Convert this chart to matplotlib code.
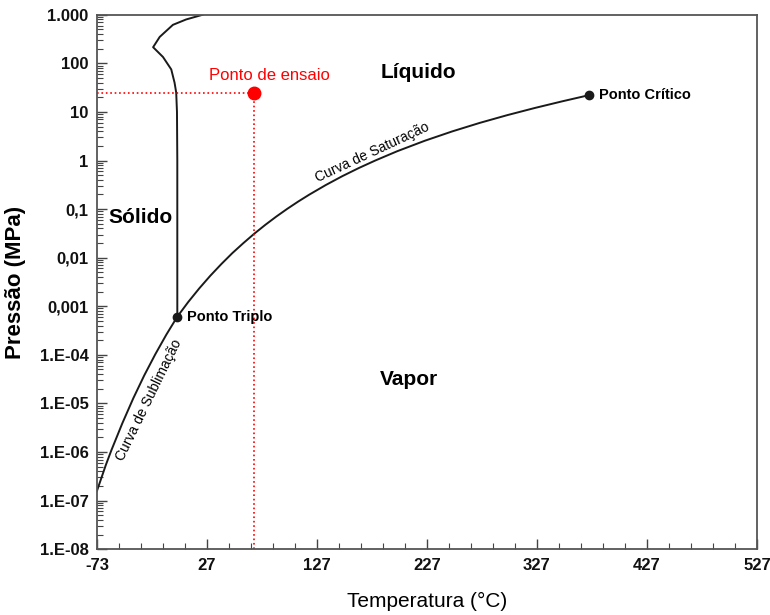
import numpy as np
import matplotlib.pyplot as plt
from matplotlib.ticker import FixedLocator, LogLocator, NullFormatter

# curva de sublimacao (gelo - vapor)
sub_T = [-73, -65, -60, -50, -40, -30, -20, -10, 0.01]
sub_P = [1.6e-7, 5.4e-7, 1.08e-6, 3.9e-6, 1.28e-5, 3.8e-5, 1.03e-4, 2.6e-4, 6.11e-4]

# curva de saturacao (liquido - vapor)
sat_T = [0.01, 10, 20, 30, 40, 50, 60, 70, 80, 90, 100, 110, 120, 135, 150, 165, 180,
         200, 225, 250, 275, 300, 325, 350, 374]
sat_P = [6.11e-4, 1.23e-3, 2.34e-3, 4.25e-3, 7.38e-3, 0.0124, 0.0199, 0.0312, 0.0474,
         0.0702, 0.1014, 0.1434, 0.1985, 0.313, 0.476, 0.700, 1.0, 1.555, 2.55, 3.976,
         5.95, 8.588, 12.05, 16.53, 22.06]

# curva de fusao (solido - liquido)
fus_T = [0.01, 0.0, -0.3, -1.0, -2.5, -5.5, -13, -22, -16, -4, 8, 23]
fus_P = [6.11e-4, 1, 10, 25, 40, 75, 135, 215, 350, 620, 800, 1000]

ponto_triplo = (0.01, 6.11e-4)
ponto_critico = (374, 22.06)
ponto_ensaio = (70, 24)

x_ticks = [-73, 27, 127, 227, 327, 427, 527]
y_ticks = [1e-8, 1e-7, 1e-6, 1e-5, 1e-4, 1e-3, 1e-2, 1e-1, 1, 10, 100, 1000]
y_labels = ["1.E-08", "1.E-07", "1.E-06", "1.E-05", "1.E-04", "0,001", "0,01", "0,1",
            "1", "10", "100", "1.000"]

plt.rcParams['font.family'] = ['Liberation Sans', 'DejaVu Sans']

fig = plt.figure(figsize=(7.7, 6.15), dpi=100)
ax = fig.add_axes([0.126, 0.107, 0.857, 0.869])

lc = '#1a1a1a'
ax.plot(sub_T, sub_P, color=lc, lw=1.4)
ax.plot(sat_T, sat_P, color=lc, lw=1.4)
ax.plot(fus_T, fus_P, color=lc, lw=1.4)
ax.plot(*ponto_triplo, 'o', color=lc, ms=6)
ax.plot(*ponto_critico, 'o', color=lc, ms=6)

# ponto de ensaio e linhas de chamada
ax.plot([-73, ponto_ensaio[0]], [ponto_ensaio[1]] * 2, color='red', ls=':', lw=1.2)
ax.plot([ponto_ensaio[0]] * 2, [1e-8, ponto_ensaio[1]], color='red', ls=':', lw=1.2)
ax.plot(*ponto_ensaio, 'o', color='red', ms=9)

ax.set_yscale('log')
ax.set_xlim(-73, 527)
ax.set_ylim(1e-8, 1000)

ax.xaxis.set_major_locator(FixedLocator(x_ticks))
ax.set_xticklabels([str(t) for t in x_ticks])
ax.xaxis.set_minor_locator(FixedLocator(np.arange(-73, 528, 20)))
ax.yaxis.set_major_locator(FixedLocator(y_ticks))
ax.set_yticklabels(y_labels)
ax.yaxis.set_minor_locator(LogLocator(base=10, subs=np.arange(2, 10), numticks=30))
ax.yaxis.set_minor_formatter(NullFormatter())

ax.tick_params(which='both', direction='in', colors='#444444', labelcolor='#111111')
ax.tick_params(which='major', length=7, width=1, labelsize=12, pad=6)
ax.tick_params(which='minor', length=4, width=0.8)
for lab in ax.get_xticklabels() + ax.get_yticklabels():
    lab.set_fontweight('bold')
for s in ax.spines.values():
    s.set_color('#555555')
    s.set_linewidth(1.3)

ax.set_xlabel('Temperatura (°C)', fontsize=15, labelpad=14)
ax.set_ylabel('Pressão (MPa)', fontsize=16, fontweight='bold', labelpad=10)

ax.text(ponto_critico[0] + 9, ponto_critico[1], 'Ponto Crítico', fontsize=10.5,
        fontweight='bold', va='center', ha='left')
ax.text(ponto_triplo[0] + 9, ponto_triplo[1], 'Ponto Triplo', fontsize=10.5,
        fontweight='bold', va='center', ha='left')
ax.text(84, 55, 'Ponto de ensaio', fontsize=12, color='red',
        ha='center', va='center')
ax.text(219, 66, 'Líquido', fontsize=15, fontweight='bold', ha='center', va='center')
ax.text(-33, 0.066, 'Sólido', fontsize=15, fontweight='bold', ha='center', va='center')
ax.text(211, 3.1e-5, 'Vapor', fontsize=15, fontweight='bold', ha='center', va='center')
ax.text(177, 1.45, 'Curva de Saturação', fontsize=10, rotation=25, ha='center', va='center')
ax.text(-26, 1.2e-5, 'Curva de Sublimação', fontsize=10, rotation=64, ha='center', va='center')

fig.savefig('out.png', dpi=100)
